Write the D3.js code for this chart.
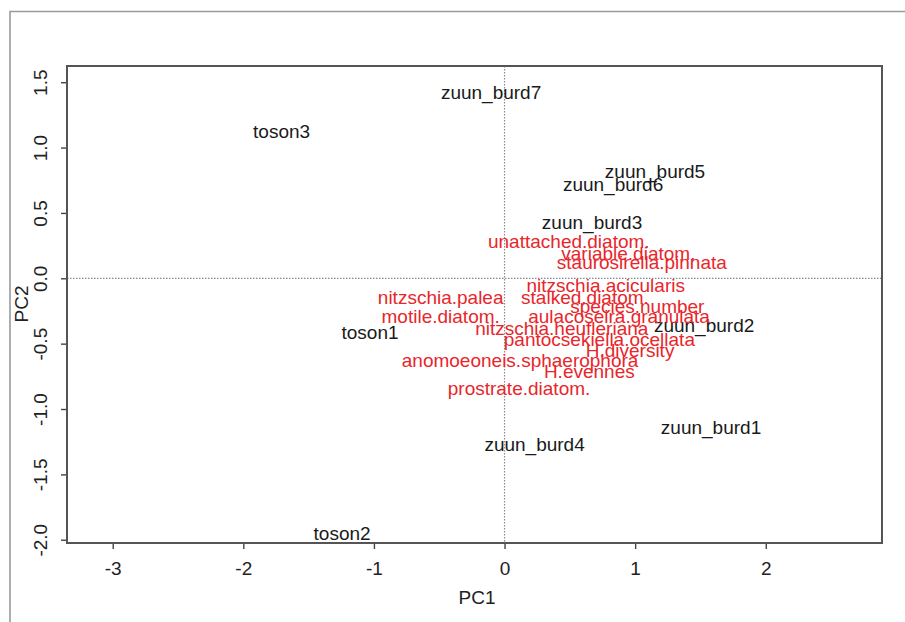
<!DOCTYPE html>
<html>
<head>
    <meta charset="utf-8">
    <title>PCA biplot</title>
    <script src="https://d3js.org/d3.v7.min.js"></script>
    <style>
        body { margin: 0; background: #fff; }
        text { font-family: "Liberation Sans", Arial, sans-serif; }
    </style>
</head>
<body>
    <div id="home"></div>

    <script>
        // site scores (black)
        const sites = ["toson1", "toson2", "toson3", "zuun_burd1", "zuun_burd2", "zuun_burd3",
                       "zuun_burd4", "zuun_burd5", "zuun_burd6", "zuun_burd7"];
        const siteX = [-1.03, -1.244, -1.707, 1.581, 1.528, 0.670, 0.230, 1.152, 0.831, -0.103];
        const siteY = [-0.411, -1.951, 1.127, -1.142, -0.357, 0.431, -1.268, 0.821, 0.721, 1.419];

        // species / variable scores (red)
        const species = ["unattached.diatom.", "variable.diatom.", "staurosirella.pinnata",
                         "nitzschia.acicularis", "nitzschia.palea", "stalked.diatom.",
                         "species.number", "motile.diatom.", "aulacoseira.granulata",
                         "nitzschia.heufleriana", "pantocsekiella.ocellata", "H.diversity",
                         "anomoeoneis.sphaerophora", "H.evennes", "prostrate.diatom."];
        const specX = [0.492, 0.948, 1.051, 0.775, -0.489, 0.616, 1.017, -0.489, 0.877,
                       0.438, 0.726, 0.961, 0.119, 0.649, 0.111];
        const specY = [0.280, 0.191, 0.119, -0.051, -0.145, -0.145, -0.212, -0.294, -0.294,
                       -0.383, -0.464, -0.554, -0.630, -0.715, -0.842];

        const xTicks = [-3, -2, -1, 0, 1, 2];
        const yTicks = [-2, -1.5, -1, -0.5, 0, 0.5, 1, 1.5];

        const w = 905;
        const h = 622;
        const fontSize = 19;

        const svg = d3.select("#home")
                      .append("svg")
                      .attr("width", w)
                      .attr("height", h)

        // outer frame of the screenshot
        svg.append("path")
           .attr("d", "M10,622 L10,11.5 L905,11.5")
           .attr("fill", "none")
           .attr("stroke", "#9a9a9a")
           .attr("stroke-width", 1.6)

        const pLeft = 67, pRight = 882, pTop = 66, pBottom = 543;

        const xScale = d3.scaleLinear()
                         .domain([-3.35, 2.89])
                         .range([pLeft, pRight])
        const yScale = d3.scaleLinear()
                         .domain([-2.025, 1.624])
                         .range([pBottom, pTop])

        // dotted zero lines
        svg.append("line")
           .attr("x1", xScale(0)).attr("x2", xScale(0))
           .attr("y1", pTop).attr("y2", pBottom)
           .attr("stroke", "#8a8a8a")
           .attr("stroke-width", 1.2)
           .attr("stroke-dasharray", "1.5,1.5")
        svg.append("line")
           .attr("x1", pLeft).attr("x2", pRight)
           .attr("y1", yScale(0)).attr("y2", yScale(0))
           .attr("stroke", "#8a8a8a")
           .attr("stroke-width", 1.2)
           .attr("stroke-dasharray", "1.5,1.5")

        //X axis
        const xAxis = d3.axisBottom(xScale)
                        .tickValues(xTicks)
                        .tickFormat(d => String(d))
                        .tickSize(6)
                        .tickPadding(13)
        const gx = svg.append("g")
                      .attr("transform", "translate(0," + pBottom + ")")
                      .call(xAxis)
        gx.select(".domain").remove()
        gx.selectAll("line").attr("stroke", "#444").attr("stroke-width", 1.4)
        gx.selectAll("text")
          .attr("font-size", fontSize)
          .attr("fill", "#222")
          .style("font-family", "'Liberation Sans', Arial, sans-serif")

        //Y axis, labels parallel to the axis like R
        const yAxis = d3.axisLeft(yScale)
                        .tickValues(yTicks)
                        .tickFormat(d => d.toFixed(1))
                        .tickSize(6)
        const gy = svg.append("g")
                      .attr("transform", "translate(" + pLeft + ",0)")
                      .call(yAxis)
        gy.select(".domain").remove()
        gy.selectAll("line").attr("stroke", "#444").attr("stroke-width", 1.4)
        gy.selectAll("text")
          .attr("x", null)
          .attr("transform", "translate(-27,0) rotate(-90)")
          .attr("dy", "0.36em")
          .attr("text-anchor", "middle")
          .attr("font-size", fontSize)
          .attr("fill", "#222")
          .style("font-family", "'Liberation Sans', Arial, sans-serif")

        // plot box
        svg.append("rect")
           .attr("x", pLeft)
           .attr("y", pTop)
           .attr("width", pRight - pLeft)
           .attr("height", pBottom - pTop)
           .attr("fill", "none")
           .attr("stroke", "#555")
           .attr("stroke-width", 2)

        svg.append("text")
           .text("PC1")
           .attr("x", 477)
           .attr("y", 604)
           .attr("text-anchor", "middle")
           .attr("font-size", fontSize)
           .attr("fill", "#222")
        svg.append("text")
           .text("PC2")
           .attr("transform", "translate(28,304) rotate(-90)")
           .attr("text-anchor", "middle")
           .attr("font-size", fontSize)
           .attr("fill", "#222")

        svg.selectAll("text.site")
           .data(sites)
           .enter()
           .append("text")
           .attr("class", "site")
           .attr("x", (d, i) => xScale(siteX[i]))
           .attr("y", (d, i) => yScale(siteY[i]))
           .attr("dy", "0.35em")
           .attr("text-anchor", "middle")
           .attr("font-size", fontSize)
           .attr("fill", "#1a1a1a")
           .text(d => d)

        svg.selectAll("text.spec")
           .data(species)
           .enter()
           .append("text")
           .attr("class", "spec")
           .attr("x", (d, i) => xScale(specX[i]))
           .attr("y", (d, i) => yScale(specY[i]))
           .attr("dy", "0.35em")
           .attr("text-anchor", "middle")
           .attr("font-size", fontSize)
           .attr("fill", "#e8262b")
           .text(d => d)
    </script>
</body>
</html>
